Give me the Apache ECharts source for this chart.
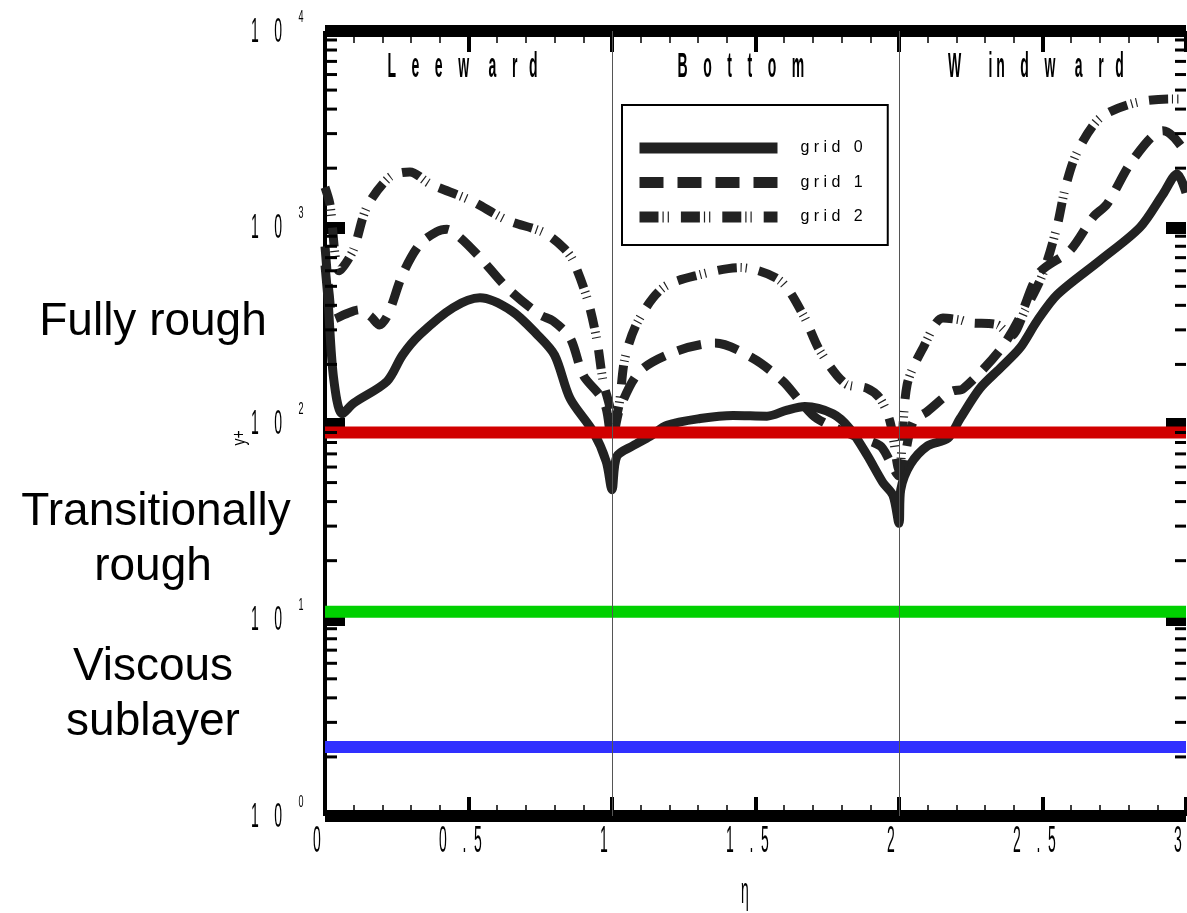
<!DOCTYPE html>
<html>
<head>
<meta charset="utf-8">
<script src="https://cdn.jsdelivr.net/npm/echarts@6/dist/echarts.min.js"></script>
<style>
  html, body { margin: 0; padding: 0; background: #fff; }
  #chart { width: 1187px; height: 913px; }
</style>
</head>
<body>
<div id="chart"></div>
<script>
// Wall coordinate eta (0..3) and y+ for the three grid resolutions
const grid0Eta = [0, 0.01, 0.03, 0.06, 0.1, 0.216, 0.27, 0.33, 0.446, 0.54, 0.65, 0.74, 0.8, 0.854, 0.934, 0.98, 1.0,
  1.017, 1.073, 1.132, 1.192, 1.307, 1.422, 1.54, 1.61, 1.672, 1.77, 1.829, 1.889, 1.944, 1.979, 2.0,
  2.006, 2.04, 2.1, 2.17, 2.213, 2.282, 2.352, 2.422, 2.481, 2.551, 2.7, 2.84, 2.92, 2.969, 3.0];
const grid0Yplus = [640, 437, 170, 112, 127, 164, 223, 283, 389, 437, 375, 283, 223, 134, 91, 64, 46,
  68, 77, 86, 98, 106, 110, 109, 117, 122, 112, 94, 69, 50, 43, 31,
  46, 62, 77, 84, 106, 151, 191, 243, 333, 453, 677, 1000, 1476, 1870, 1500];

const grid1Eta = [0, 0.015, 0.03, 0.07, 0.12, 0.16, 0.19, 0.22, 0.27, 0.33, 0.39, 0.425, 0.47, 0.54, 0.634, 0.749, 0.795, 0.854, 0.9, 0.958, 0.98, 1.0,
  1.028, 1.098, 1.226, 1.359, 1.491, 1.596, 1.655, 1.714, 1.84, 1.934, 1.969, 2.0,
  2.014, 2.049, 2.098, 2.185, 2.223, 2.35, 2.42, 2.49, 2.596, 2.676, 2.725, 2.815, 2.92, 2.955, 3.0];
const grid1Yplus = [800, 450, 340, 360, 380, 350, 318, 360, 574, 818, 950, 977, 888, 702, 492, 358, 333, 273, 176, 139, 119, 83,
  120, 185, 234, 257, 215, 164, 130, 106, 87, 77, 64, 54,
  61, 102, 115, 146, 150, 235, 345, 588, 762, 1125, 1313, 2206, 3100, 2900, 2400];

const grid2Eta = [0, 0.017, 0.05, 0.098, 0.146, 0.226, 0.296, 0.366, 0.505, 0.634, 0.76, 0.83, 0.864, 0.916, 0.948, 0.969, 0.993, 1.0,
  1.024, 1.045, 1.091, 1.178, 1.307, 1.446, 1.585, 1.666, 1.725, 1.812, 1.889, 1.934, 1.969, 2.0,
  2.028, 2.084, 2.153, 2.213, 2.247, 2.341, 2.39, 2.44, 2.5, 2.55, 2.58, 2.62, 2.7, 2.82, 2.95, 3.0];
const grid2Yplus = [1600, 1313, 600, 762, 1267, 1805, 1914, 1662, 1375, 1087, 943, 789, 677, 422, 263, 164, 120, 95,
  123, 215, 333, 492, 574, 623, 535, 358, 234, 160, 151, 134, 102, 58,
  157, 243, 345, 337, 326, 319, 280, 380, 574, 1000, 1600, 2400, 3600, 4300, 4500, 4500];

// Roughness regime limits in y+
const fullyRoughLimit = 90;
const transitionalLimit = 11;
const viscousLimit = 2.25;

// Section boundaries and titles along eta
const sectionBounds = [1, 2];
const sectionCenters = [0.479, 1.449, 2.477];
const sectionLabelYplus = 6500;
const sectionTitles = [
  'L    e    e    w     a    r   d',
  'B    o    t    t    o    m',
  'W       i n    d    w     a    r   d'
];

// Axis ticks and labels
const xTickValues = [0, 0.5, 1, 1.5, 2, 2.5, 3];
const xTickLabels = ['0', '0    .  5', '1', '1    .  5', '2', '2    .  5', '3'];
const yTickExponents = [0, 1, 2, 3, 4];
const seriesNames = ['grid 0', 'grid 1', 'grid 2'];

const FONT = '"Liberation Sans", Arial, "DejaVu Sans", sans-serif';
const INK = '#222222';

function pairs(xs, ys) { return xs.map((x, i) => [x, ys[i]]); }

// minor ticks of the log axis: 2..9 within each decade
const minorTickValues = [];
for (let e = 0; e < 4; e++) for (let m = 2; m <= 9; m++) minorTickValues.push([0, m * Math.pow(10, e)]);

const chart = echarts.init(document.getElementById('chart'), null, { renderer: 'canvas' });

const logAxisBase = {
  type: 'log', logBase: 10, min: 1, max: 10000,
  splitLine: { show: false },
  axisLabel: { show: false },
  minorTick: { show: false }
};
const valueAxisBase = {
  type: 'value', min: 0, max: 3, interval: 0.5,
  splitLine: { show: false },
  axisLabel: { show: false },
  axisLine: { show: true, onZero: false, lineStyle: { color: '#000', width: 12, cap: 'butt' } },
  axisTick: { show: true, inside: true, length: 19, lineStyle: { color: '#000', width: 4 } },
  minorTick: { show: true, splitNumber: 5, length: 11, lineStyle: { color: '#000', width: 1.5 } }
};

const option = {
  animation: false,
  backgroundColor: '#fff',
  grid: { left: 325, right: 1, top: 31, bottom: 97, containLabel: false },
  xAxis: [
    Object.assign({}, valueAxisBase, { position: 'bottom' }),
    Object.assign({}, valueAxisBase, {
      position: 'top',
      axisTick: { show: true, inside: true, length: 21, lineStyle: { color: '#000', width: 4 } },
      minorTick: { show: true, splitNumber: 5, length: 12, lineStyle: { color: '#000', width: 1.5 } }
    })
  ],
  yAxis: [
    Object.assign({}, logAxisBase, {
      position: 'left',
      axisLine: { show: true, onZero: false, lineStyle: { color: '#000', width: 4, cap: 'butt' } },
      axisTick: { show: true, inside: true, length: 20, lineStyle: { color: '#000', width: 12 } }
    }),
    Object.assign({}, logAxisBase, {
      position: 'right',
      axisLine: { show: false, onZero: false },
      axisTick: { show: true, inside: true, length: 20, lineStyle: { color: '#000', width: 12 } }
    })
  ],
  legend: {
    orient: 'vertical',
    left: 622, top: 105,
    padding: [35, 25, 20, 12],
    itemGap: 18.5,
    itemWidth: 138, itemHeight: 12,
    backgroundColor: '#fff',
    borderColor: '#000', borderWidth: 2,
    data: seriesNames,
    itemStyle: { opacity: 0 },
    lineStyle: { width: 11 },
    formatter: name => name.split('').join(' '),
    textStyle: { fontFamily: FONT, fontSize: 16, color: '#000', padding: [0, 0, 0, 18] },
    selectedMode: false
  },
  series: [
    {
      name: seriesNames[0], type: 'line', data: pairs(grid0Eta, grid0Yplus),
      symbol: 'none', smooth: 0.3, z: 3,
      lineStyle: { color: INK, width: 9, type: 'solid' },
      markLine: {
        silent: true, symbol: ['none', 'none'], label: { show: false },
        lineStyle: { color: '#555', width: 1, type: 'solid' },
        data: sectionBounds.map(v => ({ xAxis: v }))
      }
    },
    {
      name: seriesNames[1], type: 'line', data: pairs(grid1Eta, grid1Yplus),
      symbol: 'none', smooth: 0.3, z: 3,
      lineStyle: { color: INK, width: 9, type: [24, 14] }
    },
    {
      name: seriesNames[2], type: 'line', data: pairs(grid2Eta, grid2Yplus),
      symbol: 'none', smooth: 0.3, z: 3,
      lineStyle: { color: INK, width: 9, type: [19, 4, 1.2, 4, 1.2, 12] }
    },
    {
      name: 'fully rough limit', type: 'line', data: [[0, fullyRoughLimit], [3, fullyRoughLimit]],
      symbol: 'none', z: 4, silent: true,
      lineStyle: { color: '#d10000', width: 12 }
    },
    {
      name: 'transitional limit', type: 'line', data: [[0, transitionalLimit], [3, transitionalLimit]],
      symbol: 'none', z: 4, silent: true,
      lineStyle: { color: '#00d000', width: 12 }
    },
    {
      name: 'viscous limit', type: 'line', data: [[0, viscousLimit], [3, viscousLimit]],
      symbol: 'none', z: 4, silent: true,
      lineStyle: { color: '#3030ff', width: 12 }
    },
    {
      name: 'log minor ticks', type: 'custom', silent: true, z: 5, clip: false,
      data: minorTickValues,
      renderItem: function (params, api) {
        const v = api.value(1);
        const l = api.coord([0, v]);
        const r = api.coord([3, v]);
        return {
          type: 'group',
          children: [
            { type: 'rect', shape: { x: l[0], y: l[1] - 1.5, width: 12, height: 3 }, style: { fill: '#000' } },
            { type: 'rect', shape: { x: r[0] - 11, y: r[1] - 1.5, width: 11, height: 3 }, style: { fill: '#000' } }
          ]
        };
      }
    }
  ]
};

chart.setOption(option);

// Text drawn in a tall narrow style, positioned from the axis scales
function narrowText(x, y, text, size, sy, extra, weight) {
  return Object.assign({
    type: 'text', x: x, y: y, scaleY: sy, z: 20, silent: true,
    style: {
      text: text, fontSize: size, fontFamily: FONT, fontWeight: weight || 'normal', fill: '#000',
      align: 'center', verticalAlign: 'middle',
      textAlign: 'center', textVerticalAlign: 'middle'
    }
  }, extra || {});
}
function plainText(x, y, text, size) {
  return {
    type: 'text', x: x, y: y, z: 20, silent: true,
    style: {
      text: text, fontSize: size, fontFamily: FONT, fill: '#000',
      align: 'center', verticalAlign: 'middle',
      textAlign: 'center', textVerticalAlign: 'middle'
    }
  };
}

const px = (x, y) => chart.convertToPixel({ gridIndex: 0 }, [x, y]);
const graphics = [];

xTickValues.forEach((v, i) => {
  const p = px(v, 1);
  graphics.push(narrowText(p[0] - 8, 842, xTickLabels[i], 14, 2.6));
});

yTickExponents.forEach(e => {
  const p = px(0, Math.pow(10, e));
  graphics.push(narrowText(p[0] - 58.5, p[1] + 1, '1    0', 14, 2.5));
  graphics.push(narrowText(p[0] - 24, p[1] - 14, String(e), 9, 1.9));
});

sectionTitles.forEach((t, i) => {
  const p = px(sectionCenters[i], sectionLabelYplus);
  graphics.push(narrowText(p[0], p[1], t, 14, 2.5, null, 'bold'));
});

// axis titles
graphics.push(narrowText(745, 893, 'η', 14, 2.6));
graphics.push(narrowText(240, 438, 'y+', 14, 1.3, { rotation: Math.PI / 2 }));

// roughness regime names
graphics.push(plainText(153, 322, 'Fully rough', 46));
graphics.push(plainText(156, 512, 'Transitionally', 46));
graphics.push(plainText(153, 567, 'rough', 46));
graphics.push(plainText(153, 667, 'Viscous', 46));
graphics.push(plainText(153, 722, 'sublayer', 46));

chart.setOption({ graphic: { elements: graphics } });
</script>
</body>
</html>
